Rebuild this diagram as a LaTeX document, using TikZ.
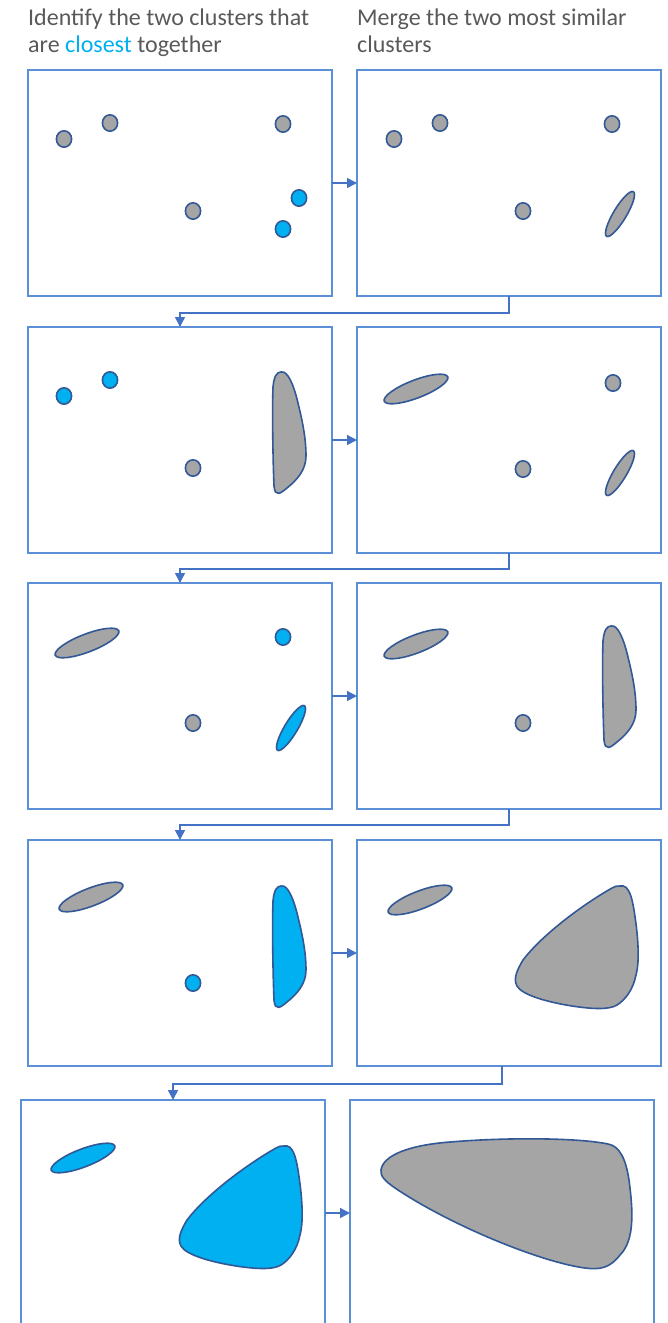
\documentclass[tikz,border=0pt]{standalone}
\usepackage{fontspec}
\setmainfont{Carlito}
\usetikzlibrary{arrows.meta, positioning}

\definecolor{framecol}{RGB}{91,143,214}
\definecolor{flowcol}{RGB}{68,114,196}
\definecolor{edgecol}{RGB}{50,88,150}
\definecolor{greyfill}{RGB}{165,165,165}
\definecolor{hitfill}{RGB}{0,176,240}
\definecolor{textcol}{RGB}{89,89,89}

% cluster shapes, drawn inside a panel scope (origin = panel's top left)
\newcommand{\blip}[2]{\draw[#1] (#2) circle [x radius=7.6, y radius=8.2];}
\newcommand{\longstreak}[2]{\draw[#1, shift={(#2)}, rotate=21] (0,0) ellipse [x radius=34, y radius=9];}
\newcommand{\shortstreak}[2]{\draw[#1, shift={(#2)}, rotate=59] (0,0) ellipse [x radius=26, y radius=6.5];}
\def\tallblob{(0,0) .. controls (7,-2) and (13,15) .. (16,27)
    .. controls (21,47) and (25,65) .. (25,84) .. controls (25,98) and (16,108) .. (6,116)
    .. controls (0,121) and (-6,126) .. (-7,114) .. controls (-8,90) and (-9,40) .. (-8,15)
    .. controls (-7,4) and (-4,0) .. (0,0) -- cycle}
\def\wedgeblob{(263,46) .. controls (272,44) and (275,58) .. (277,70)
    .. controls (281,95) and (283,120) .. (279,135) .. controls (276,150) and (268,160) .. (260,165)
    .. controls (252,170) and (235,169) .. (215,166) .. controls (190,162) and (165,155) .. (160,146)
    .. controls (156,139) and (160,130) .. (166,120) .. controls (185,95) and (225,65) .. (255,48)
    .. controls (258,46) and (260,46) .. (263,46) -- cycle}
\def\bigblob{(31,70) .. controls (33,55) and (60,45) .. (100,42)
    .. controls (160,37) and (230,38) .. (258,44) .. controls (270,46) and (276,60) .. (279,80)
    .. controls (283,110) and (285,140) .. (270,155) .. controls (260,168) and (250,170) .. (235,168)
    .. controls (190,162) and (100,125) .. (45,88) .. controls (35,81) and (30,76) .. (31,70) -- cycle}

\begin{document}
\begin{tikzpicture}[x=1pt, y=-1pt,
    panel/.style={draw=framecol, line width=1.5pt, minimum width=304pt,
        minimum height=226pt, inner sep=0pt, outer sep=0pt},
    flow/.style={-{Triangle[length=10pt, width=10pt]}, draw=flowcol, line width=1.5pt},
    gdot/.style={draw=edgecol, fill=greyfill, line width=1.6pt},
    cdot/.style={draw=edgecol, fill=hitfill, line width=1.6pt},
    head/.style={anchor=north west, inner sep=0pt, align=left, text=textcol,
        font=\fontsize{24}{27}\selectfont},
]
\useasboundingbox (0,0) rectangle (667,1323);

% ---- headings ----
\node (headl) [head] at (28,9) {Identify the two clusters that\\are \textcolor{hitfill}{closest} together};
\node (headr) [head] at (357,9) {Merge the two most similar\\clusters};

% ---- panels ----
\node (p1l) [panel, anchor=north west] at (28,70) {};
\node (p1r) [panel, right=25pt of p1l] {};
\node (p2l) [panel, below=31pt of p1l] {};
\node (p2r) [panel, right=25pt of p2l] {};
\node (p3l) [panel, below=30pt of p2l] {};
\node (p3r) [panel, right=25pt of p3l] {};
\node (p4l) [panel, below=31pt of p3l] {};
\node (p4r) [panel, right=25pt of p4l] {};
\node (p5l) [panel, below=34pt of p4l, xshift=-7pt] {};
\node (p5r) [panel, right=25pt of p5l] {};

% ---- arrows ----
\draw[flow] (p1l) -- (p1r);
\draw[flow] (p2l) -- (p2r);
\draw[flow] (p3l) -- (p3r);
\draw[flow] (p4l) -- (p4r);
\draw[flow] (p5l) -- (p5r);
\draw[flow] (p1r.south) -- ++(0,17) -| (p2l.north);
\draw[flow] (p2r.south) -- ++(0,16) -| (p3l.north);
\draw[flow] (p3r.south) -- ++(0,16) -| (p4l.north);
\draw[flow] (p4r.south -| p5r.north) -- ++(0,18) -| (p5l.north);

% ---- step 1 ----
\begin{scope}[shift={(p1l.north west)}]
\blip{gdot}{36,69} \blip{gdot}{82,53} \blip{gdot}{255,54} \blip{gdot}{165,141}
\blip{cdot}{271,128} \blip{cdot}{255,159}
\end{scope}
\begin{scope}[shift={(p1r.north west)}]
\blip{gdot}{37,69} \blip{gdot}{83,53} \blip{gdot}{255,54} \blip{gdot}{166,141}
\shortstreak{gdot}{263,144}
\end{scope}

% ---- step 2 ----
\begin{scope}[shift={(p2l.north west)}]
\blip{cdot}{36,69} \blip{cdot}{82,53} \blip{gdot}{165,141}
\draw[gdot, shift={(253,45)}] \tallblob;
\end{scope}
\begin{scope}[shift={(p2r.north west)}]
\longstreak{gdot}{59,62} \blip{gdot}{256,56} \blip{gdot}{166,142}
\shortstreak{gdot}{263,146}
\end{scope}

% ---- step 3 ----
\begin{scope}[shift={(p3l.north west)}]
\longstreak{gdot}{59,60} \blip{cdot}{255,54} \blip{gdot}{165,140}
\shortstreak{cdot}{263,145}
\end{scope}
\begin{scope}[shift={(p3r.north west)}]
\longstreak{gdot}{59,61} \blip{gdot}{166,140}
\draw[gdot, shift={(254,43)}] \tallblob;
\end{scope}

% ---- step 4 ----
\begin{scope}[shift={(p4l.north west)}]
\longstreak{gdot}{63,57} \blip{cdot}{165,143}
\draw[cdot, shift={(253,46)}] \tallblob;
\end{scope}
\begin{scope}[shift={(p4r.north west)}]
\longstreak{gdot}{63,60}
\draw[gdot] \wedgeblob;
\end{scope}

% ---- step 5 ----
\begin{scope}[shift={(p5l.north west)}]
\longstreak{cdot}{62,58}
\draw[cdot] \wedgeblob;
\end{scope}
\begin{scope}[shift={(p5r.north west)}]
\draw[gdot] \bigblob;
\end{scope}

\end{tikzpicture}
\end{document}
